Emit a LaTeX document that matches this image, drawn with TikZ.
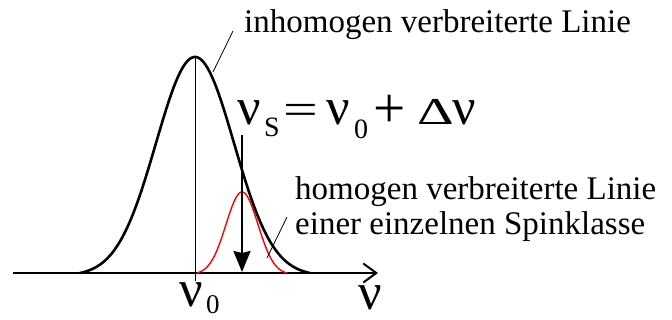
\documentclass[tikz,border=0pt]{standalone}
\usepackage{fontspec}
\setmainfont{Liberation Serif}
\newfontfamily\tnr{Liberation Serif}
\usetikzlibrary{arrows.meta}
\newcommand{\fs}[1]{\fontsize{#1}{#1}\selectfont}
\tikzset{
  lbl/.style={anchor=base west, inner sep=0pt, font=\tnr\fontsize{33}{35}\selectfont},
  sym/.style={anchor=base west, inner sep=0pt, font=\tnr},
  curve/.style={line width=2.6pt, line join=round},
  redcurve/.style={line width=1.4pt, red},
  leader/.style={line width=0.8pt},
}
\begin{document}
\begin{tikzpicture}[x=1pt,y=-1pt]
\useasboundingbox (0,0) rectangle (672,320);
% coordinates
\coordinate (axL) at (13,273);
\coordinate (axR) at (378,273);
\coordinate (peak) at (195,57);
\coordinate (foot) at (195,281);
\coordinate (arT) at (242,135);
\coordinate (arB) at (242,272);
\coordinate (l1a) at (233,31);
\coordinate (l1b) at (213,72);
\coordinate (l2a) at (287,217);
\coordinate (l2b) at (267,258);
% axis
\draw[line width=2.6pt, -{Straight Barb[length=13pt,width=19pt,line width=2pt]}] (axL) -- (axR);
% center line
\draw[line width=0.9pt] (peak) -- (foot);
% red homogeneous line
\draw[redcurve, domain=197:287, samples=90] plot (\x, {273-81*(exp(-((\x-242)^2)/(2*16^2))-0.0191)/(1-0.0191)});
% black inhomogeneous line
\draw[curve, domain=80:310, samples=160] plot (\x, {273-216*(exp(-((\x-195)^2)/(2*39^2))-0.01294)/(1-0.01294)});
% arrow
\draw[line width=2.4pt, -{Stealth[length=21pt,width=17pt,inset=2pt]}] (arT) -- (arB);
% leaders
\draw[leader] (l1a) -- (l1b);
\draw[leader] (l2a) -- (l2b);
% labels
\node[lbl] (inh) at (244,33) {inhomogen verbreiterte Linie};
\node[lbl] (hom1) at (295,200) {homogen verbreiterte Linie};
\node[lbl] (hom2) at (295,235) {einer einzelnen Spinklasse};
% formula
\node[sym, font=\tnr\fs{52}] (f1) at (237,125) {ν};
\node[sym, font=\tnr\fs{28}] (f2) at (264,137) {S};
\node[sym, font=\tnr\fs{44}] (f3) at (283,125) {\scalebox{1.4}[1]{=}};
\node[sym, font=\tnr\fs{52}] (f4) at (326,125) {ν};
\node[sym, font=\tnr\fs{28}] (f5) at (354,139) {0};
\node[sym, font=\tnr\fs{44}] (f6) at (373,128) {\scalebox{1.3}{+}};
\node[sym, font=\tnr\fs{38}] (f7) at (417,125) {\scalebox{1.5}[1]{Δ}};
\node[sym, font=\tnr\fs{52}] (f8) at (452,125) {ν};
% axis labels
\node[sym, font=\tnr\fs{52}] (nu0) at (179,307) {ν};
\node[sym, font=\tnr\fs{27}] (nu0s) at (206,313) {0};
\node[sym, font=\tnr\fs{52}] (nuax) at (358,309) {ν};
\end{tikzpicture}
\end{document}
